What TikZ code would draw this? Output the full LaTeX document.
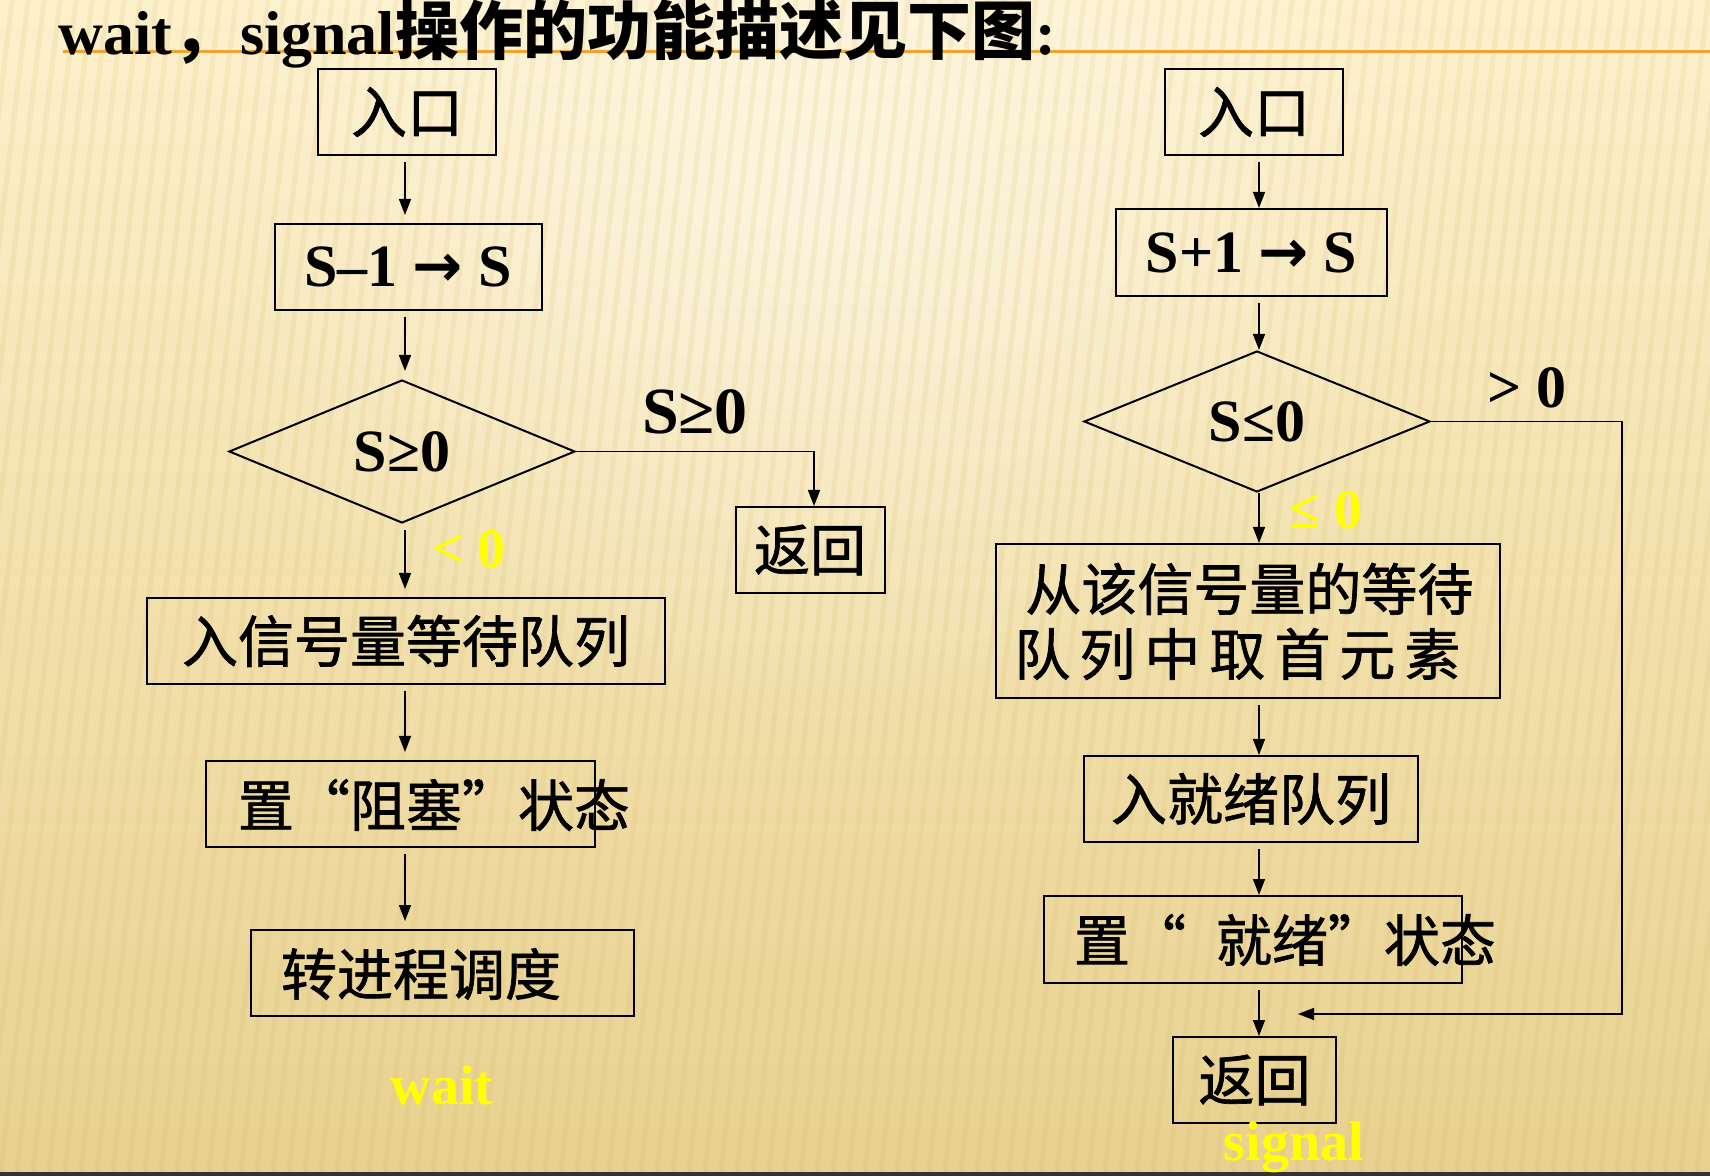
\documentclass[tikz,border=0pt]{standalone}
\usepackage{fontspec}
\setmainfont{Liberation Serif}
\newfontfamily\cjk{Noto Sans CJK SC}
\newfontfamily\cjkheavy{Noto Sans CJK SC}[FakeBold=1.2]
\newfontfamily\sym{DejaVu Sans}
\usetikzlibrary{arrows.meta,shapes.geometric,fadings}

\definecolor{bgTop}{HTML}{FDF1CC}
\definecolor{bgBot}{HTML}{E8D190}
\definecolor{stripe}{HTML}{D2AE5A}
\definecolor{rule}{HTML}{F0A232}
\definecolor{lbl}{HTML}{FFFF00}

\tikzfading[name=glow, inner color=transparent!0, outer color=transparent!100]

\newcommand\toarrow{{\sym\bfseries →}}
\newcommand\gp{\hspace{4.5pt}}

\tikzset{
  box/.style={draw, line width=1pt, inner sep=0pt, minimum height=43pt},
  decision/.style={draw, line width=1pt, diamond, inner sep=0pt, aspect=2.4},
  cn/.style={font=\cjkheavy\fontsize{28}{32}\selectfont},
  latin/.style={font=\bfseries\fontsize{30}{34}\selectfont},
  yel/.style={font=\bfseries\fontsize{28}{32}\selectfont, text=lbl},
  arr/.style={line width=0.75pt, -{Triangle[length=8pt,width=6pt]}},
  arrL/.style={arr, shorten <=3pt, shorten >=4pt},
  arrR/.style={arr, shorten <=3pt},
}

\begin{document}
\begin{tikzpicture}[x=0.5pt, y=-0.5pt]
% page and background
\useasboundingbox (0,0) rectangle (1710,1176);
\shade[top color=bgTop, bottom color=bgBot] (0,0) rectangle (1710,1176);
\begin{scope}
  \clip (0,0) rectangle (1710,1176);
  \fill[white, opacity=0.45, path fading=glow] (820,200) ellipse [x radius=650, y radius=550];
  \foreach \x in {-160,-144,...,1720}
    \draw[stripe, line width=2.5pt, opacity=0.13] (\x,1176) -- (\x+140,0);
\end{scope}
\draw[rule, line width=1.5pt] (63,52) -- (1710,52);
\fill[black!80] (0,1172) rectangle (1710,1176);

% heading
\node[anchor=base west, inner sep=0pt, font=\bfseries\fontsize{31}{36}\selectfont] (title) at (58,55)
  {wait{\cjk\fontsize{32}{36}\selectfont ，}\hspace{2pt}signal{\cjk\fontsize{32}{36}\selectfont 操作的功能描述见下图}:};

% ---- wait ----
\coordinate (colL) at (405,0);
\node[box, cn, minimum width=89pt]    (inL)   at (407,112)   {入口};
\node[box, latin, minimum width=133.5pt] (decL) at (408,267) {S–1 \toarrow\ S};
\node[decision, latin, minimum width=173pt, minimum height=71.5pt] (dL) at (402,451.5) {S≥0};
\node[box, cn, minimum width=74.5pt]  (retL)  at (810,550)   {返回};
\node[box, cn, minimum width=259pt]   (waitq) at (406,641)   {入信号量等待队列};
\node[box, minimum width=194.5pt]     (block) at (400.5,804) {};
\node[cn, inner sep=0pt]              (blockT) at (434,805)  {置“阻塞”状态};
\node[box, minimum width=191.5pt]     (sched) at (442.5,973) {};
\node[cn, inner sep=0pt]              (schedT) at (421,974)  {转进程调度};

\node[latin, font=\bfseries\fontsize{33}{36}\selectfont] (geL) at (695,412) {S≥0};
\node[yel] (ltL) at (469,549) {< 0};
\node[yel] (waitLbl) at (442,1085) {wait};

\draw[arrL] (inL.south -| colL) -- (decL.north -| colL);
\draw[arrL] (decL.south -| colL) -- (dL.north -| colL);
\draw[arrL] (dL.south -| colL) -- (waitq.north -| colL);
\draw[arrL] (waitq.south -| colL) -- (block.north -| colL);
\draw[arrL] (block.south -| colL) -- (sched.north -| colL);
\draw[arr] (dL.east) -| ([xshift=2pt]retL.north);

% ---- signal ----
\coordinate (colR) at (1259,0);
\node[box, cn, minimum width=89pt]      (inR)  at (1254,112)    {入口};
\node[box, latin, minimum width=135.5pt, minimum height=43.5pt] (incR) at (1251.5,252.5) {S+1 \toarrow\ S};
\node[decision, latin, minimum width=173pt, minimum height=70.5pt] (dR) at (1257,421.5) {S≤0};
\node[box, minimum width=252pt, minimum height=77pt] (takeR) at (1248,621) {};
\node[cn, inner sep=0pt, align=left, anchor=west, font=\cjkheavy\fontsize{28}{32.5}\selectfont]
  (takeT) at (1014,621.5) {\hspace*{5.5pt}从该信号量的等待\\队\gp 列\gp 中\gp 取\gp 首\gp 元\gp 素};
\node[box, cn, minimum width=167pt]     (readyq) at (1251,799)  {入就绪队列};
\node[box, minimum width=209pt, minimum height=43.5pt] (readyst) at (1253,939.5) {};
\node[cn, inner sep=0pt]                (readystT) at (1285,940) {置“\hspace{15pt}就绪”状态};
\node[box, cn, minimum width=81.5pt]    (retR) at (1254.5,1080) {返回};

\node[latin, font=\bfseries\fontsize{30}{32}\selectfont] (gtR) at (1527,388) {> 0};
\node[yel] (leR) at (1326,510) {≤ 0};
\node[yel] (sigLbl) at (1294,1147) {signal};

\draw[arrR] (inR.south -| colR) -- (incR.north -| colR);
\draw[arrR] (incR.south -| colR) -- (dR.north -| colR);
\draw[arr]  (dR.south -| colR) -- (takeR.north -| colR);
\draw[arrR] (takeR.south -| colR) -- (readyq.north -| colR);
\draw[arrR] (readyq.south -| colR) -- (readyst.north -| colR);
\draw[arrR] (readyst.south -| colR) -- (retR.north -| colR);

\coordinate (loopC)   at (1622,1014);
\coordinate (loopEnd) at (1298,1014);
\draw[arr] (dR.east) -| (loopC) -- (loopEnd);
\end{tikzpicture}
\end{document}
